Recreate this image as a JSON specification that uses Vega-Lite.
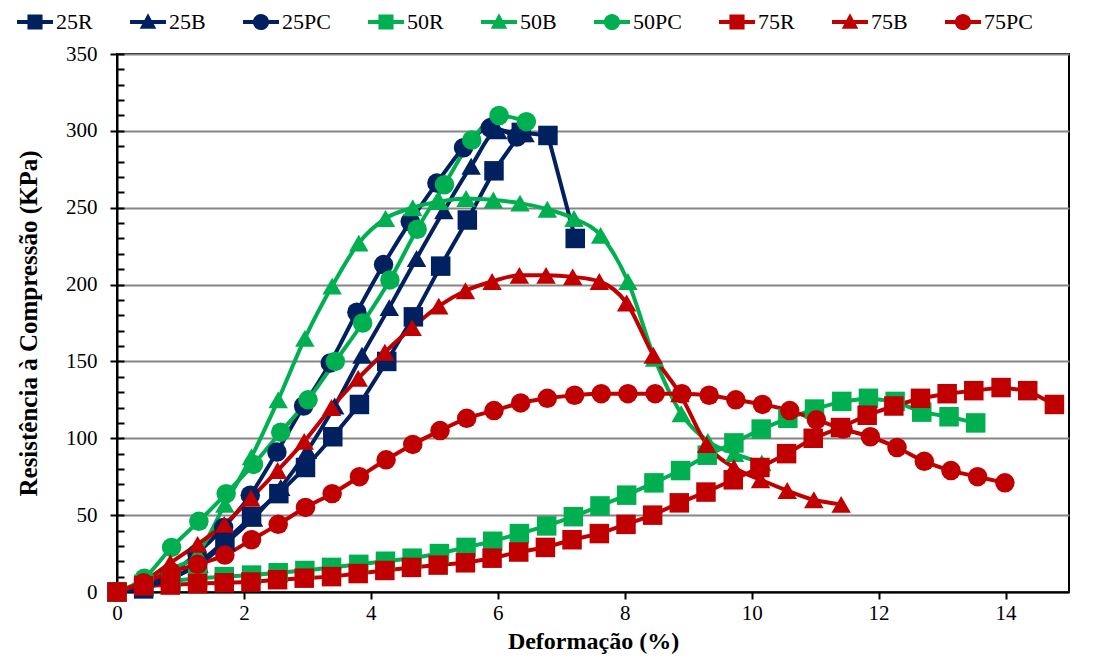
{
  "$schema": "https://vega.github.io/schema/vega-lite/v6.json",
  "width": 952,
  "height": 538,
  "autosize": {"type": "none"},
  "padding": {"left": 117, "top": 54, "right": 30, "bottom": 69},
  "background": "white",
  "config": {
    "view": {"stroke": "black", "strokeWidth": 2},
    "font": "Liberation Serif",
    "axis": {
      "labelFont": "Liberation Serif", "titleFont": "Liberation Serif",
      "labelFontSize": 21, "labelColor": "black", "titleColor": "black",
      "domainColor": "black", "tickColor": "black", "domainWidth": 2, "tickWidth": 2,
      "gridColor": "#868686", "gridWidth": 2, "labelFlush": false
    },
    "legend": {
      "labelFont": "Liberation Serif", "labelFontSize": 22, "labelColor": "black",
      "symbolSize": 1296, "symbolStrokeWidth": 0, "columnPadding": 37, "labelOffset": 3
    }
  },
  "data": {"values": [
    {"s":"25R","x":0,"y":0},{"s":"25R","x":0.42,"y":2},{"s":"25R","x":0.85,"y":8},{"s":"25R","x":1.27,"y":18},{"s":"25R","x":1.7,"y":33},{"s":"25R","x":2.12,"y":49},{"s":"25R","x":2.55,"y":64},{"s":"25R","x":2.97,"y":81},{"s":"25R","x":3.4,"y":101},{"s":"25R","x":3.82,"y":122},{"s":"25R","x":4.25,"y":150},{"s":"25R","x":4.67,"y":179},{"s":"25R","x":5.1,"y":212},{"s":"25R","x":5.52,"y":242},{"s":"25R","x":5.94,"y":274},{"s":"25R","x":6.37,"y":299},{"s":"25R","x":6.79,"y":297},{"s":"25R","x":7.22,"y":230},
    {"s":"25B","x":0,"y":0},{"s":"25B","x":0.43,"y":3},{"s":"25B","x":0.86,"y":9},{"s":"25B","x":1.29,"y":18},{"s":"25B","x":1.72,"y":32},{"s":"25B","x":2.15,"y":48},{"s":"25B","x":2.58,"y":68},{"s":"25B","x":3.0,"y":92},{"s":"25B","x":3.43,"y":121},{"s":"25B","x":3.86,"y":154},{"s":"25B","x":4.29,"y":185},{"s":"25B","x":4.72,"y":217},{"s":"25B","x":5.15,"y":248},{"s":"25B","x":5.58,"y":277},{"s":"25B","x":6.0,"y":300},{"s":"25B","x":6.43,"y":298},
    {"s":"25PC","x":0,"y":0},{"s":"25PC","x":0.42,"y":4},{"s":"25PC","x":0.84,"y":12},{"s":"25PC","x":1.26,"y":25},{"s":"25PC","x":1.68,"y":42},{"s":"25PC","x":2.1,"y":63},{"s":"25PC","x":2.52,"y":91},{"s":"25PC","x":2.94,"y":121},{"s":"25PC","x":3.36,"y":149},{"s":"25PC","x":3.78,"y":182},{"s":"25PC","x":4.2,"y":213},{"s":"25PC","x":4.62,"y":241},{"s":"25PC","x":5.04,"y":266},{"s":"25PC","x":5.46,"y":289},{"s":"25PC","x":5.88,"y":302},{"s":"25PC","x":6.3,"y":296},
    {"s":"50R","x":0,"y":0},{"s":"50R","x":0.42,"y":5},{"s":"50R","x":0.85,"y":7},{"s":"50R","x":1.27,"y":9},{"s":"50R","x":1.69,"y":10},{"s":"50R","x":2.12,"y":11},{"s":"50R","x":2.54,"y":12.5},{"s":"50R","x":2.96,"y":14},{"s":"50R","x":3.38,"y":16},{"s":"50R","x":3.81,"y":18},{"s":"50R","x":4.23,"y":20},{"s":"50R","x":4.65,"y":22},{"s":"50R","x":5.08,"y":25},{"s":"50R","x":5.5,"y":29},{"s":"50R","x":5.92,"y":33},{"s":"50R","x":6.34,"y":38},{"s":"50R","x":6.77,"y":43},{"s":"50R","x":7.19,"y":49},{"s":"50R","x":7.61,"y":56},{"s":"50R","x":8.03,"y":63},{"s":"50R","x":8.46,"y":71},{"s":"50R","x":8.88,"y":79},{"s":"50R","x":9.3,"y":89},{"s":"50R","x":9.72,"y":97},{"s":"50R","x":10.15,"y":106},{"s":"50R","x":10.57,"y":113},{"s":"50R","x":10.99,"y":119},{"s":"50R","x":11.42,"y":124},{"s":"50R","x":11.84,"y":126},{"s":"50R","x":12.26,"y":124},{"s":"50R","x":12.68,"y":117},{"s":"50R","x":13.11,"y":114},{"s":"50R","x":13.53,"y":110},
    {"s":"50B","x":0,"y":0},{"s":"50B","x":0.42,"y":7},{"s":"50B","x":0.85,"y":15},{"s":"50B","x":1.27,"y":25},{"s":"50B","x":1.7,"y":57},{"s":"50B","x":2.12,"y":88},{"s":"50B","x":2.54,"y":125},{"s":"50B","x":2.96,"y":165},{"s":"50B","x":3.39,"y":199},{"s":"50B","x":3.81,"y":227},{"s":"50B","x":4.23,"y":243},{"s":"50B","x":4.66,"y":250},{"s":"50B","x":5.08,"y":254},{"s":"50B","x":5.5,"y":256},{"s":"50B","x":5.93,"y":255},{"s":"50B","x":6.35,"y":253},{"s":"50B","x":6.78,"y":249},{"s":"50B","x":7.2,"y":243},{"s":"50B","x":7.62,"y":232},{"s":"50B","x":8.05,"y":202},{"s":"50B","x":8.47,"y":152},{"s":"50B","x":8.89,"y":116},{"s":"50B","x":9.31,"y":98},{"s":"50B","x":9.73,"y":90},{"s":"50B","x":10.16,"y":84},
    {"s":"50PC","x":0,"y":0},{"s":"50PC","x":0.43,"y":9},{"s":"50PC","x":0.86,"y":29},{"s":"50PC","x":1.29,"y":46},{"s":"50PC","x":1.72,"y":64},{"s":"50PC","x":2.15,"y":83},{"s":"50PC","x":2.58,"y":104},{"s":"50PC","x":3.01,"y":125},{"s":"50PC","x":3.44,"y":150},{"s":"50PC","x":3.87,"y":175},{"s":"50PC","x":4.3,"y":203},{"s":"50PC","x":4.73,"y":236},{"s":"50PC","x":5.16,"y":265},{"s":"50PC","x":5.59,"y":294},{"s":"50PC","x":6.02,"y":310},{"s":"50PC","x":6.45,"y":306},
    {"s":"75R","x":0,"y":0},{"s":"75R","x":0.42,"y":4},{"s":"75R","x":0.84,"y":4.5},{"s":"75R","x":1.27,"y":5.5},{"s":"75R","x":1.69,"y":6},{"s":"75R","x":2.11,"y":6.5},{"s":"75R","x":2.53,"y":8},{"s":"75R","x":2.95,"y":9},{"s":"75R","x":3.38,"y":10},{"s":"75R","x":3.8,"y":12},{"s":"75R","x":4.22,"y":14},{"s":"75R","x":4.64,"y":16},{"s":"75R","x":5.06,"y":17.5},{"s":"75R","x":5.49,"y":19},{"s":"75R","x":5.91,"y":22},{"s":"75R","x":6.33,"y":26},{"s":"75R","x":6.75,"y":29},{"s":"75R","x":7.17,"y":34},{"s":"75R","x":7.6,"y":38},{"s":"75R","x":8.02,"y":44},{"s":"75R","x":8.44,"y":50},{"s":"75R","x":8.86,"y":58},{"s":"75R","x":9.28,"y":65},{"s":"75R","x":9.71,"y":73},{"s":"75R","x":10.13,"y":81},{"s":"75R","x":10.55,"y":90},{"s":"75R","x":10.97,"y":100},{"s":"75R","x":11.4,"y":107},{"s":"75R","x":11.82,"y":115},{"s":"75R","x":12.24,"y":121},{"s":"75R","x":12.66,"y":126},{"s":"75R","x":13.08,"y":129},{"s":"75R","x":13.5,"y":131},{"s":"75R","x":13.93,"y":133},{"s":"75R","x":14.35,"y":131},{"s":"75R","x":14.77,"y":122},
    {"s":"75B","x":0,"y":0},{"s":"75B","x":0.42,"y":7},{"s":"75B","x":0.84,"y":19},{"s":"75B","x":1.27,"y":31},{"s":"75B","x":1.69,"y":44},{"s":"75B","x":2.11,"y":61},{"s":"75B","x":2.53,"y":79},{"s":"75B","x":2.95,"y":98},{"s":"75B","x":3.38,"y":120},{"s":"75B","x":3.8,"y":139},{"s":"75B","x":4.22,"y":156},{"s":"75B","x":4.65,"y":172},{"s":"75B","x":5.07,"y":186},{"s":"75B","x":5.49,"y":196},{"s":"75B","x":5.91,"y":202},{"s":"75B","x":6.34,"y":206},{"s":"75B","x":6.76,"y":206},{"s":"75B","x":7.18,"y":205},{"s":"75B","x":7.6,"y":202},{"s":"75B","x":8.03,"y":188},{"s":"75B","x":8.45,"y":154},{"s":"75B","x":8.87,"y":129},{"s":"75B","x":9.29,"y":96},{"s":"75B","x":9.72,"y":81},{"s":"75B","x":10.14,"y":73},{"s":"75B","x":10.56,"y":66},{"s":"75B","x":10.98,"y":60},{"s":"75B","x":11.41,"y":57},
    {"s":"75PC","x":0,"y":0},{"s":"75PC","x":0.42,"y":6},{"s":"75PC","x":0.85,"y":13},{"s":"75PC","x":1.27,"y":18},{"s":"75PC","x":1.7,"y":24},{"s":"75PC","x":2.12,"y":34},{"s":"75PC","x":2.54,"y":44},{"s":"75PC","x":2.97,"y":55},{"s":"75PC","x":3.39,"y":64},{"s":"75PC","x":3.82,"y":75},{"s":"75PC","x":4.24,"y":86},{"s":"75PC","x":4.66,"y":96},{"s":"75PC","x":5.09,"y":105},{"s":"75PC","x":5.51,"y":113},{"s":"75PC","x":5.94,"y":118},{"s":"75PC","x":6.36,"y":123},{"s":"75PC","x":6.78,"y":126},{"s":"75PC","x":7.21,"y":128},{"s":"75PC","x":7.63,"y":129},{"s":"75PC","x":8.05,"y":129},{"s":"75PC","x":8.48,"y":129},{"s":"75PC","x":8.9,"y":129},{"s":"75PC","x":9.33,"y":128},{"s":"75PC","x":9.75,"y":125},{"s":"75PC","x":10.17,"y":122},{"s":"75PC","x":10.6,"y":118},{"s":"75PC","x":11.02,"y":112},{"s":"75PC","x":11.44,"y":106},{"s":"75PC","x":11.87,"y":101},{"s":"75PC","x":12.29,"y":94},{"s":"75PC","x":12.72,"y":85},{"s":"75PC","x":13.14,"y":79},{"s":"75PC","x":13.56,"y":75},{"s":"75PC","x":13.99,"y":71}
  ]},
  "layer": [
    {
      "transform": [{"filter": {"field": "s", "oneOf": ["25R", "50R", "75R"]}}],
      "mark": {"type": "line", "strokeWidth": 4},
      "encoding": {
        "x": {"field": "x", "type": "quantitative", "scale": {"domain": [0, 15], "nice": false},
          "axis": {"values": [0, 2, 4, 6, 8, 10, 12, 14], "format": "d", "grid": false, "tickSize": 7, "labelPadding": 3,
            "title": "Deformação (%)", "titleFontSize": 24, "titleFontWeight": "bold", "titlePadding": 6}},
        "y": {"field": "y", "type": "quantitative", "scale": {"domain": [0, 350], "nice": false},
          "axis": {"values": [0, 50, 100, 150, 200, 250, 300, 350], "grid": true, "tickSize": 7, "labelPadding": 13,
            "title": "Resistência à Compressão (KPa)", "titleFontSize": 25, "titleFontWeight": "bold", "titlePadding": 24}},
        "color": {"field": "s", "type": "nominal",
          "scale": {"domain": ["25R","25B","25PC","50R","50B","50PC","75R","75B","75PC"],
            "range": ["#002060","#002060","#002060","#00B050","#00B050","#00B050","#C00000","#C00000","#C00000"]},
          "legend": null}
      }
    },
    {
      "transform": [{"filter": {"field": "s", "oneOf": ["25B", "25PC", "50B", "50PC", "75B", "75PC"]}}],
      "mark": {"type": "line", "strokeWidth": 4, "interpolate": "monotone"},
      "encoding": {
        "x": {"field": "x", "type": "quantitative", "axis": null},
        "y": {"field": "y", "type": "quantitative", "axis": null},
        "color": {"field": "s", "type": "nominal",
          "scale": {"domain": ["25R","25B","25PC","50R","50B","50PC","75R","75B","75PC"],
            "range": ["#002060","#002060","#002060","#00B050","#00B050","#00B050","#C00000","#C00000","#C00000"]},
          "legend": null}
      }
    },
    {
      "mark": {"type": "point", "filled": true, "opacity": 1, "size": 380},
      "encoding": {
        "x": {"field": "x", "type": "quantitative", "axis": null},
        "y": {"field": "y", "type": "quantitative",
          "axis": {"orient": "left", "values": [0,10,20,30,40,50,60,70,80,90,100,110,120,130,140,150,160,170,180,190,200,210,220,230,240,250,260,270,280,290,300,310,320,330,340,350],
            "labels": false, "domain": false, "grid": false, "tickSize": -7, "title": null}},
        "color": {"field": "s", "type": "nominal",
          "scale": {"domain": ["25R","25B","25PC","50R","50B","50PC","75R","75B","75PC"],
            "range": ["#002060","#002060","#002060","#00B050","#00B050","#00B050","#C00000","#C00000","#C00000"]},
          "legend": null},
        "shape": {"field": "s", "type": "nominal",
          "scale": {"domain": ["25R","25B","25PC","50R","50B","50PC","75R","75B","75PC"],
            "range": ["square","triangle-up","circle","square","triangle-up","circle","square","triangle-up","circle"]},
          "legend": null}
      }
    },
    {
      "transform": [{"filter": "datum.x < -100"}],
      "mark": {"type": "point", "filled": true, "opacity": 1},
      "encoding": {
        "x": {"field": "x", "type": "quantitative", "axis": null},
        "y": {"field": "y", "type": "quantitative", "axis": null},
        "color": {"field": "s", "type": "nominal",
          "scale": {"domain": ["25R","25B","25PC","50R","50B","50PC","75R","75B","75PC"],
            "range": ["#002060","#002060","#002060","#00B050","#00B050","#00B050","#C00000","#C00000","#C00000"]},
          "legend": {"orient": "none", "legendX": -100, "legendY": -50, "direction": "horizontal", "columns": 9, "title": null}},
        "shape": {"field": "s", "type": "nominal",
          "scale": {"domain": ["25R","25B","25PC","50R","50B","50PC","75R","75B","75PC"],
            "range": [
              "M-1,-0.11H1V0.11H-1Z M-0.42,-0.42H0.42V0.42H-0.42Z",
              "M-1,-0.11H1V0.11H-1Z M0,-0.48L0.46,0.38H-0.46Z",
              "M-1,-0.11H1V0.11H-1Z M0.45,0A0.45,0.45,0,1,1,-0.45,0A0.45,0.45,0,1,1,0.45,0Z",
              "M-1,-0.11H1V0.11H-1Z M-0.42,-0.42H0.42V0.42H-0.42Z",
              "M-1,-0.11H1V0.11H-1Z M0,-0.48L0.46,0.38H-0.46Z",
              "M-1,-0.11H1V0.11H-1Z M0.45,0A0.45,0.45,0,1,1,-0.45,0A0.45,0.45,0,1,1,0.45,0Z",
              "M-1,-0.11H1V0.11H-1Z M-0.42,-0.42H0.42V0.42H-0.42Z",
              "M-1,-0.11H1V0.11H-1Z M0,-0.48L0.46,0.38H-0.46Z",
              "M-1,-0.11H1V0.11H-1Z M0.45,0A0.45,0.45,0,1,1,-0.45,0A0.45,0.45,0,1,1,0.45,0Z"]},
          "legend": {"orient": "none", "legendX": -100, "legendY": -50, "direction": "horizontal", "columns": 9, "title": null}}
      }
    }
  ],
  "resolve": {"axis": {"y": "independent", "x": "independent"}, "scale": {"shape": "independent", "color": "independent"}}
}
